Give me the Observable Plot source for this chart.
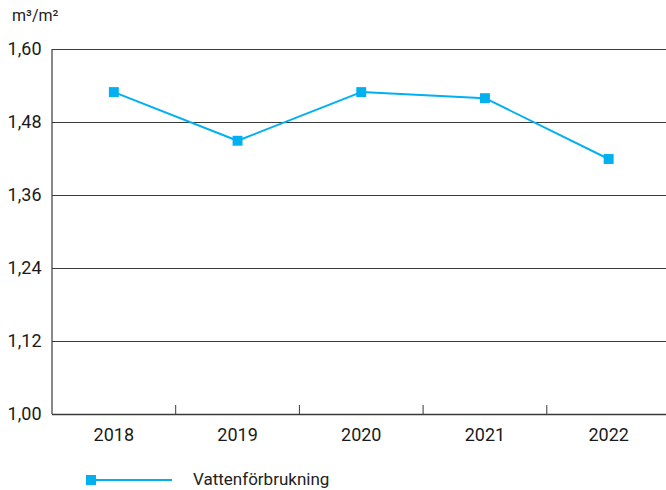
<!DOCTYPE html>
<html>
<head>
<meta charset="utf-8">
<script src="https://cdn.jsdelivr.net/npm/d3@7"></script>
<script src="https://cdn.jsdelivr.net/npm/@observablehq/plot@0.6"></script>
<style>
  html, body { margin: 0; padding: 0; background: #fff; }
  body { width: 666px; height: 490px; position: relative; overflow: hidden; font-family: Roboto, "Noto Sans", sans-serif; }
  #unit { position: absolute; left: 12px; top: 6px; font-size: 16px; color: #222; }
  #chart { position: absolute; left: 0; top: 0; }
  #legend { position: absolute; left: 0; top: 466px; width: 666px; height: 28px; }
  #legend svg { position: absolute; left: 84px; top: 6px; }
  #legend span { position: absolute; left: 193px; top: 3px; font-size: 17px; color: #222; }
</style>
</head>
<body>
<div id="chart"></div>
<div id="unit">m³/m²</div>
<div id="legend">
  <svg width="92" height="16"><line x1="7" y1="8" x2="88" y2="8" stroke="#00b0f0" stroke-width="2"/><rect x="2" y="3" width="10" height="10" fill="#00b0f0"/></svg>
  <span>Vattenförbrukning</span>
</div>
<script>
const years = ["2018", "2019", "2020", "2021", "2022"];
const values = [1.53, 1.45, 1.53, 1.52, 1.42];
const yTicks = [1.00, 1.12, 1.24, 1.36, 1.48, 1.60];
const seriesName = "Vattenförbrukning";

const data = years.map((y, i) => ({i, year: y, value: values[i]}));
const boundaries = years.slice(1).map((_, i) => i + 0.5);
const color = "#00b0f0";
const axisColor = "#3a3a3a";
const H = 462, plotTop = 49, plotBottom = 414;
const tickLen = 9 * (1.6 - 1.0) / (plotBottom - plotTop);
const fmt = d => d3.format(".2f")(d).replace(".", ",");

const chart = Plot.plot({
  width: 666,
  height: H,
  marginLeft: 52,
  marginRight: 0,
  marginTop: plotTop,
  marginBottom: H - plotBottom,
  style: {fontFamily: "Roboto, 'Noto Sans', sans-serif", color: "#1a1a1a", background: "white"},
  x: {type: "linear", domain: [-0.5, 4.5], range: [51.5, 670], axis: null},
  y: {domain: [1.0, 1.6], axis: null},
  marks: [
    Plot.ruleY(yTicks, {stroke: axisColor, strokeWidth: 1}),
    Plot.ruleY([1.0], {stroke: axisColor, strokeWidth: 1.5}),
    Plot.ruleX([-0.5], {y1: 1.0, y2: 1.6, stroke: axisColor, strokeWidth: 1.2}),
    Plot.ruleX(boundaries, {x: d => d, y1: 1.0, y2: 1.0 + tickLen, stroke: axisColor, strokeWidth: 1}),
    Plot.axisY({ticks: yTicks, tickFormat: fmt, tickSize: 0, tickPadding: 11, fontSize: 18, anchor: "left", label: null}),
    Plot.axisX({ticks: [0, 1, 2, 3, 4], tickFormat: i => years[i], tickSize: 0, tickPadding: 14, fontSize: 18, anchor: "bottom", label: null}),
    Plot.line(data, {x: "i", y: "value", stroke: color, strokeWidth: 2}),
    Plot.dot(data, {x: "i", y: "value", symbol: "square", r: 5.6, fill: color, stroke: "none"})
  ]
});
document.getElementById("chart").appendChild(chart);
</script>
</body>
</html>
